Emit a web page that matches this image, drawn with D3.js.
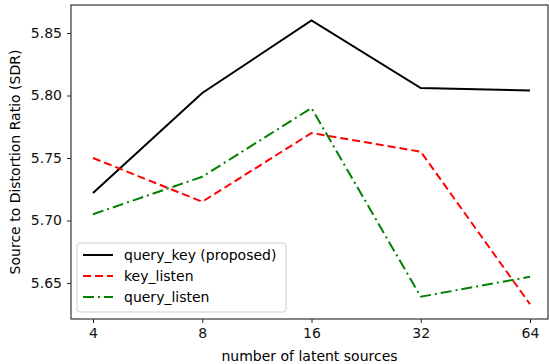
<!DOCTYPE html>
<html>
<head>
<meta charset="utf-8">
<script src="https://cdn.jsdelivr.net/npm/d3@7"></script>
<style>
  body { margin: 0; background: #fff; }
  text { font-family: "DejaVu Sans", sans-serif; }
</style>
</head>
<body>
<script>
// data
var sources = [4, 8, 16, 32, 64];
var queryKey = [5.722, 5.802, 5.860, 5.806, 5.804];
var keyListen = [5.750, 5.715, 5.770, 5.755, 5.633];
var queryListen = [5.705, 5.735, 5.790, 5.639, 5.655];
var yTicks = [5.65, 5.70, 5.75, 5.80, 5.85];
var seriesNames = ["query_key (proposed)", "key_listen", "query_listen"];

var width = 549, height = 364;
// plot box edges
var mLeft = 71, mRight = 548, mTop = 5, mBottom = 319;
var fontSize = "14px";

var svg = d3.select("body").append("svg")
    .attr("width", width)
    .attr("height", height);

// scales
var x = d3.scaleLog().base(2)
    .domain([4, 64])
    .range([93, 530]);

var y = d3.scaleLinear()
    .domain([5.65, 5.85])
    .range([283, 33]);

// series definitions
var series = [
  { name: seriesNames[0], values: queryKey, color: "#000000", dash: null },
  { name: seriesNames[1], values: keyListen, color: "#ff0000", dash: "8,4" },
  { name: seriesNames[2], values: queryListen, color: "#008000", dash: "11,4,2,4" }
];

var line = d3.line()
  .x(function(d, i) { return x(sources[i]); })
  .y(function(d) { return y(d); });

svg.append("g")
  .selectAll("path")
  .data(series)
  .enter()
  .append("path")
    .attr("d", function(d) { return line(d.values); })
    .attr("fill", "none")
    .attr("stroke", function(d) { return d.color; })
    .attr("stroke-width", 2)
    .attr("stroke-dasharray", function(d) { return d.dash; });

// axes
var xAxis = svg.append("g")
  .attr("transform", "translate(0," + mBottom + ")")
  .call(d3.axisBottom(x).tickValues(sources).tickFormat(d3.format("d")).tickSize(4).tickPadding(5));

var yAxis = svg.append("g")
  .attr("transform", "translate(" + mLeft + ",0)")
  .call(d3.axisLeft(y).tickValues(yTicks).tickFormat(d3.format(".2f")).tickSize(4).tickPadding(5));

[xAxis, yAxis].forEach(function(a) {
  a.select(".domain").remove();
  a.selectAll("line").attr("stroke", "#222");
  a.selectAll("text").style("font-size", fontSize).attr("fill", "#111");
});

// frame
svg.append("rect")
  .attr("x", mLeft)
  .attr("y", mTop)
  .attr("width", mRight - mLeft)
  .attr("height", mBottom - mTop)
  .attr("fill", "none")
  .attr("stroke", "#333")
  .attr("stroke-width", 1.2);

// axis labels
svg.append("text")
  .attr("x", (mLeft + mRight) / 2)
  .attr("y", 361)
  .attr("text-anchor", "middle")
  .style("font-size", fontSize)
  .text("number of latent sources");

svg.append("text")
  .attr("transform", "translate(20," + ((mTop + mBottom) / 2) + ") rotate(-90)")
  .attr("text-anchor", "middle")
  .style("font-size", fontSize)
  .text("Source to Distortion Ratio (SDR)");

// legend
var legend = svg.append("g").attr("transform", "translate(77,243)");
legend.append("rect")
  .attr("width", 209)
  .attr("height", 69)
  .attr("rx", 3)
  .attr("fill", "#fff")
  .attr("fill-opacity", 0.8)
  .attr("stroke", "#ccc");

var items = legend.selectAll(".item")
  .data(series)
  .enter()
  .append("g")
    .attr("transform", function(d, i) { return "translate(0," + (12 + i * 21) + ")"; });

items.append("line")
  .attr("x1", 6).attr("x2", 36)
  .attr("stroke", function(d) { return d.color; })
  .attr("stroke-width", 2)
  .attr("stroke-dasharray", function(d) { return d.dash; });

items.append("text")
  .attr("x", 47)
  .attr("dy", "0.35em")
  .style("font-size", fontSize)
  .text(function(d) { return d.name; });
</script>
</body>
</html>
